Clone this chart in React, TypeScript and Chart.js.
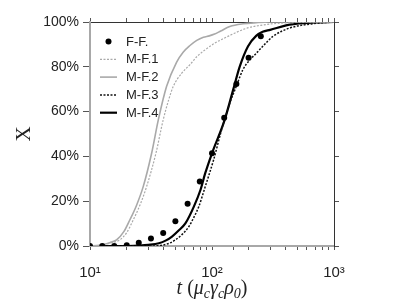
import React, { useEffect, useRef } from 'react';
import { Chart, registerables } from 'chart.js';

Chart.register(...registerables);

// ---- data ----
const seriesLabels = ['F-F.', 'M-F.1', 'M-F.2', 'M-F.3', 'M-F.4'];

const tFF = [10, 12.6, 15.8, 20, 25.1, 31.6, 39.8, 50.1, 63.1, 79.4, 100, 125.9, 158.5, 199.5, 251.2];
const xFF = [0, 0, 0, 0.3, 1.5, 3.3, 5.8, 11.0, 18.9, 28.8, 41.4, 57.2, 72.3, 84.0, 93.6];

const tMF1 = [10, 12, 15, 17.5, 20, 22.6, 26, 29.1, 34.7, 39.8, 44, 48.1, 56.2, 66, 75, 90, 105, 121, 140, 160, 200, 250, 300, 400, 600, 1000];
const xMF1 = [0, 0.2, 1.5, 2.7, 6, 11.6, 19, 26.5, 41.4, 56.3, 65, 71.2, 77, 81, 84.5, 88, 90.5, 92.3, 94, 95.5, 97.5, 98.5, 99.1, 99.6, 99.9, 100];

const tMF2 = [10, 12, 14.5, 16.5, 19, 21.2, 24, 27.3, 32, 36.3, 42.4, 51.2, 58, 66, 75, 85, 95, 105, 118, 140, 180, 231, 300, 1000];
const xMF2 = [0, 0.3, 1.5, 2.7, 6.5, 11.6, 18, 26.5, 41.4, 56.3, 71.2, 82, 86.5, 89.5, 91.8, 93.2, 93.8, 94.6, 96, 98, 99.2, 99.7, 100, 100];

const tMF3 = [10, 30, 39.5, 45, 50, 57, 64.5, 71, 78, 88, 103, 120, 140, 160, 179, 200, 231, 270, 316, 433, 716, 1000];
const xMF3 = [0, 0, 0.4, 1.3, 2.7, 5.2, 8.6, 12.8, 17.6, 26.5, 38.4, 52, 63.8, 72, 78.7, 82.5, 86.1, 90, 93.6, 97.3, 99.4, 100];

const tMF4 = [10, 20, 25, 30, 36.7, 42, 47, 53, 60.5, 71, 80.4, 88, 100, 127, 149, 169, 197, 230, 260, 300, 433, 716, 1000];
const xMF4 = [0, 0, 0.2, 0.5, 1.2, 2.5, 4.2, 6.8, 10.1, 17.6, 25, 32.5, 41.4, 56.3, 69.7, 80.2, 89.1, 93.8, 95.6, 96.5, 98.8, 99.8, 100];

const xMin = 10;
const xMax = 1000;
const yMin = 0;
const yMax = 100;
const yStep = 20;
const xTickLabels: Record<string, string> = { '1': '10¹', '2': '10²', '3': '10³' };
const yTitle = 'X';
// x title pieces: [text, italic, subscript]
const xTitleParts: [string, boolean, boolean][] = [
  ['t', true, false],
  [' (', false, false],
  ['μ', true, false],
  ['c', true, true],
  ['γ', true, false],
  ['c', true, true],
  ['ρ', true, false],
  ['0', true, true],
  [')', false, false],
];

const toPts = (t: number[], v: number[]) => t.map((x, i) => ({ x, y: v[i] }));

const SANS = '"Liberation Sans", Arial, Helvetica, sans-serif';
const SERIF = '"Liberation Serif", "Times New Roman", serif';

const legendPlugin = {
  id: 'innerLegend',
  afterDraw(chart: any) {
    const { ctx, chartArea } = chart;
    const x0 = chartArea.left + 10;
    const x1 = chartArea.left + 27;
    const tx = chartArea.left + 36;
    const y0 = chartArea.top + 19.5;
    const dy = 17.8;
    ctx.save();
    ctx.font = `13px ${SANS}`;
    ctx.textBaseline = 'middle';
    ctx.textAlign = 'left';
    chart.data.datasets.forEach((ds: any, i: number) => {
      const y = y0 + i * dy;
      if (ds.showLine === false) {
        ctx.beginPath();
        ctx.fillStyle = ds.backgroundColor;
        ctx.arc((x0 + x1) / 2, y, ds.pointRadius, 0, Math.PI * 2);
        ctx.fill();
      } else {
        ctx.beginPath();
        ctx.strokeStyle = ds.borderColor;
        ctx.lineWidth = ds.borderWidth;
        ctx.setLineDash(ds.borderDash || []);
        ctx.moveTo(x0, y);
        ctx.lineTo(x1, y);
        ctx.stroke();
        ctx.setLineDash([]);
      }
      ctx.fillStyle = '#222';
      ctx.fillText(ds.label, tx, y + 0.5);
    });
    ctx.restore();
  },
};

const xTitlePlugin = {
  id: 'xTitle',
  afterDraw(chart: any) {
    const { ctx, chartArea } = chart;
    const big = 20;
    const small = 14;
    const fontOf = (it: boolean, sub: boolean) => `${it ? 'italic ' : ''}${sub ? small : big}px ${SERIF}`;
    ctx.save();
    ctx.fillStyle = '#222';
    ctx.textBaseline = 'alphabetic';
    ctx.textAlign = 'left';
    let w = 0;
    const widths = xTitleParts.map(([s, it, sub]) => {
      ctx.font = fontOf(it, sub);
      const m = ctx.measureText(s).width;
      w += m;
      return m;
    });
    let x = (chartArea.left + chartArea.right) / 2 - w / 2;
    const base = 294;
    xTitleParts.forEach(([s, it, sub], i) => {
      ctx.font = fontOf(it, sub);
      ctx.fillText(s, x, base + (sub ? 4 : 0));
      x += widths[i];
    });
    ctx.restore();
  },
};

export default function App() {
  const ref = useRef<HTMLCanvasElement | null>(null);
  useEffect(() => {
    if (!ref.current) return;
    const chart = new Chart(ref.current, {
      type: 'line',
      data: {
        datasets: [
          {
            label: seriesLabels[0],
            data: toPts(tFF, xFF),
            showLine: false,
            pointRadius: 3,
            pointBackgroundColor: '#000',
            backgroundColor: '#000',
            borderColor: '#000',
            pointBorderWidth: 0,
          },
          {
            label: seriesLabels[1],
            data: toPts(tMF1, xMF1),
            borderColor: '#a9a9a9',
            borderWidth: 1.2,
            borderDash: [2, 1.5],
            pointRadius: 0,
            cubicInterpolationMode: 'monotone',
          },
          {
            label: seriesLabels[2],
            data: toPts(tMF2, xMF2),
            borderColor: '#a9a9a9',
            borderWidth: 1.6,
            pointRadius: 0,
            cubicInterpolationMode: 'monotone',
          },
          {
            label: seriesLabels[3],
            data: toPts(tMF3, xMF3),
            borderColor: '#111',
            borderWidth: 1.5,
            borderDash: [2, 1.5],
            pointRadius: 0,
            cubicInterpolationMode: 'monotone',
          },
          {
            label: seriesLabels[4],
            data: toPts(tMF4, xMF4),
            borderColor: '#000',
            borderWidth: 2.2,
            pointRadius: 0,
            cubicInterpolationMode: 'monotone',
          },
        ] as any,
      },
      options: {
        responsive: false,
        animation: false,
        layout: { padding: 0 },
        plugins: {
          legend: { display: false },
          tooltip: { enabled: false },
        },
        scales: {
          x: {
            type: 'logarithmic',
            position: 'bottom',
            min: xMin,
            max: xMax,
            border: { color: '#a8a8a8', width: 2 },
            grid: { drawOnChartArea: false, drawTicks: true, tickLength: 4, color: '#555', lineWidth: 1 },
            ticks: {
              autoSkip: false,
              maxRotation: 0,
              minRotation: 0,
              padding: 14,
              color: '#222',
              font: { family: SANS, size: 15 },
              callback: (v: any) => {
                const lg = Math.log10(Number(v));
                const r = Math.round(lg);
                return Math.abs(lg - r) < 1e-9 ? xTickLabels[String(r)] ?? '' : '';
              },
            },
            afterFit: (s: any) => {
              s.height = 59;
            },
          },
          x2: {
            type: 'logarithmic',
            position: 'top',
            min: xMin,
            max: xMax,
            border: { color: '#333', width: 1 },
            grid: { drawOnChartArea: false, drawTicks: true, tickLength: 4, color: '#555', lineWidth: 1 },
            ticks: { display: false, autoSkip: false },
            afterFit: (s: any) => {
              s.height = 22;
            },
          },
          y: {
            type: 'linear',
            position: 'left',
            min: yMin,
            max: yMax,
            border: { color: '#a8a8a8', width: 2 },
            grid: { drawOnChartArea: false, drawTicks: true, tickLength: 7, color: '#555', lineWidth: 1 },
            ticks: {
              stepSize: yStep,
              padding: 4,
              color: '#222',
              font: { family: SANS, size: 14 },
              callback: (v: any) => `${v}%`,
            },
            title: {
              display: true,
              text: yTitle,
              color: '#222',
              font: { family: SERIF, size: 21, weight: 'normal' },
              padding: { top: 12, bottom: 0 },
            },
            afterFit: (s: any) => {
              s.width = 90;
            },
          },
          y2: {
            type: 'linear',
            position: 'right',
            min: yMin,
            max: yMax,
            border: { color: '#333', width: 1 },
            grid: { drawOnChartArea: false, drawTicks: true, tickLength: 5, color: '#555', lineWidth: 1 },
            ticks: { display: false, stepSize: yStep },
            afterFit: (s: any) => {
              s.width = 73;
            },
          },
        },
      } as any,
      plugins: [legendPlugin, xTitlePlugin],
    });
    return () => chart.destroy();
  }, []);
  return (
    <div style={{ position: 'fixed', left: 0, top: 0, width: 407, height: 305, background: '#fff' }}>
      <canvas ref={ref} width={407} height={305} style={{ width: 407, height: 305, display: 'block' }} />
    </div>
  );
}
